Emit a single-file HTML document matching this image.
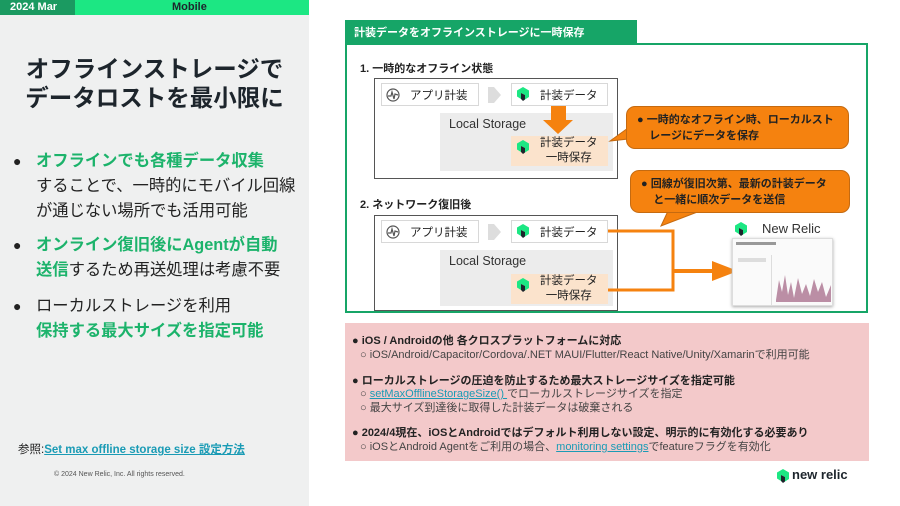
<!DOCTYPE html>
<html><head><meta charset="utf-8">
<style>
*{margin:0;padding:0;box-sizing:border-box}
body{width:900px;height:506px;position:relative;background:#fff;font-family:"Liberation Sans","Noto Sans CJK JP",sans-serif;color:#222;overflow:hidden}
.a{position:absolute;white-space:nowrap}
.g{color:#1cb36b;font-weight:bold}
.box{position:absolute;background:#fff;border:1px solid #d8d8d8}
.ls{position:absolute;background:#ececec}
.pe{position:absolute;background:#fbe3cc}
.co{position:absolute;background:#f5820f;border:1px solid #c56a10;border-radius:9px;font-weight:bold;font-size:11px;line-height:16px;color:#222;padding:5px 0 0 10px}
.pk div{position:absolute;white-space:nowrap;font-size:11px;left:0}
.lnk{color:#1a9bb5;text-decoration:underline}
</style></head><body>
<!-- left panel -->
<div class="a" style="left:0;top:0;width:309px;height:506px;background:#eff0f0"></div>
<div class="a" style="left:0;top:0;width:75px;height:15px;background:#1b9a61"></div>
<div class="a" style="left:75px;top:0;width:234px;height:15px;background:#1ce783"></div>
<div class="a" style="left:10px;top:0;font-size:11px;line-height:15px;font-weight:bold;color:#fff">2024 Mar</div>
<div class="a" style="left:172px;top:0;font-size:11px;line-height:15px;font-weight:bold;color:#1d252c">Mobile</div>
<div class="a" style="left:0;width:309px;top:55px;text-align:center;font-size:23.5px;line-height:29px;font-weight:bold;color:#1d252c">オフラインストレージで<br>データロストを最小限に</div>
<div class="a" style="left:13px;top:153px;font-size:14px">●</div>
<div class="a" style="left:36px;top:149px;font-size:16.3px;line-height:25px"><span class="g">オフラインでも各種データ収集</span><br>することで、一時的にモバイル回線<br>が通じない場所でも活用可能</div>
<div class="a" style="left:13px;top:237px;font-size:14px">●</div>
<div class="a" style="left:36px;top:233px;font-size:16.3px;line-height:25px"><span class="g">オンライン復旧後にAgentが自動<br>送信</span>するため再送処理は考慮不要</div>
<div class="a" style="left:13px;top:298px;font-size:14px">●</div>
<div class="a" style="left:36px;top:294px;font-size:16.3px;line-height:25px">ローカルストレージを利用<br><span class="g">保持する最大サイズを指定可能</span></div>
<div class="a" style="left:18px;top:441px;font-size:11.5px">参照:<span class="lnk" style="font-weight:bold">Set max offline storage size 設定方法</span></div>
<div class="a" style="left:54px;top:471px;font-size:7px;color:#555">© 2024 New Relic, Inc. All rights reserved.</div>

<!-- right header -->
<div class="a" style="left:345px;top:20px;width:292px;height:24px;background:#16a567"></div>
<div class="a" style="left:354px;top:24px;font-size:11px;font-weight:bold;color:#fff">計装データをオフラインストレージに一時保存</div>
<div class="a" style="left:345px;top:43px;width:523px;height:270px;border:2px solid #16a567"></div>

<div class="a" style="left:360px;top:60px;font-size:11px;font-weight:bold">1. 一時的なオフライン状態</div>
<div class="a" style="left:374px;top:78px;width:244px;height:101px;border:1px solid #555"></div>
<div class="a" style="left:360px;top:196px;font-size:11px;font-weight:bold">2. ネットワーク復旧後</div>
<div class="a" style="left:374px;top:215px;width:244px;height:96px;border:1px solid #555"></div>

<div class="ls" style="left:440px;top:113px;width:173px;height:58px"></div>
<div class="a" style="left:449px;top:117px;font-size:12.5px;color:#333">Local Storage</div>
<div class="pe" style="left:511px;top:136px;width:97px;height:30px"></div>
<div class="box" style="left:381px;top:83px;width:98px;height:23px"></div>
<div class="box" style="left:511px;top:83px;width:97px;height:23px"></div>
<div class="ls" style="left:440px;top:250px;width:173px;height:56px"></div>
<div class="a" style="left:449px;top:254px;font-size:12.5px;color:#333">Local Storage</div>
<div class="pe" style="left:511px;top:274px;width:97px;height:30px"></div>
<div class="box" style="left:381px;top:220px;width:98px;height:23px"></div>
<div class="box" style="left:511px;top:220px;width:97px;height:23px"></div>

<div class="a" style="left:410px;top:87px;font-size:11.5px">アプリ計装</div>
<div class="a" style="left:540px;top:87px;font-size:11.5px">計装データ</div>
<div class="a" style="left:540px;top:136px;font-size:11.5px;line-height:15px;text-align:center">計装データ<br>一時保存</div>
<div class="a" style="left:410px;top:224px;font-size:11.5px">アプリ計装</div>
<div class="a" style="left:540px;top:224px;font-size:11.5px">計装データ</div>
<div class="a" style="left:540px;top:274px;font-size:11.5px;line-height:15px;text-align:center">計装データ<br>一時保存</div>

<svg class="a" style="left:0;top:0" width="900" height="506">
<defs>
<g id="nr"><polygon points="6,0 12,3.5 12,10 8,12.5 8,8 4,6 4,12 0,9.5 0,3.5" fill="#1ce783"/><polygon points="4,6 8,8 8,12.5 6,14 4,12" fill="#1d252c"/></g>
<g id="ap"><circle cx="7" cy="7" r="6" fill="none" stroke="#555" stroke-width="1.2"/><polyline points="2,8 5,8 6,4 8,11 9,6 12,7" fill="none" stroke="#555" stroke-width="1.2"/></g>
</defs>
<use href="#ap" x="386" y="88"/><use href="#ap" x="386" y="225"/>
<use href="#nr" x="517" y="87"/><use href="#nr" x="517" y="140"/><use href="#nr" x="517" y="224"/><use href="#nr" x="517" y="278"/>
<use href="#nr" x="735" y="222"/><use href="#nr" x="777" y="469"/>
<polygon points="488,87 494,87 501,95 494,103 488,103" fill="#ddd"/>
<polygon points="488,224 494,224 501,232 494,240 488,240" fill="#ddd"/>
<polygon points="551,106 566,106 566,120 573,120 558,134 543,120 551,120" fill="#f5820f"/>
<polyline points="608,231 673,231 673,290 608,290" fill="none" stroke="#f5820f" stroke-width="3"/>
<line x1="673" y1="271" x2="714" y2="271" stroke="#f5820f" stroke-width="4"/>
<polygon points="712,261 738,271 712,281" fill="#f5820f"/>
<polygon points="628,128 610,141 628,139" fill="#f5820f" stroke="#c56a10" stroke-width="1"/>
<polygon points="668,211 661,226 700,211" fill="#f5820f" stroke="#c56a10" stroke-width="1"/>
</svg>
<div class="co" style="left:626px;top:106px;width:223px;height:43px">●&nbsp;一時的なオフライン時、ローカルスト<br>&nbsp;&nbsp;&nbsp;&nbsp;レージにデータを保存</div>
<div class="co" style="left:630px;top:170px;width:220px;height:43px">●&nbsp;回線が復旧次第、最新の計装データ<br>&nbsp;&nbsp;&nbsp;&nbsp;と一緒に順次データを送信</div>

<div class="a" style="left:762px;top:221px;font-size:13px;color:#333">New Relic</div>
<div class="a" style="left:732px;top:238px;width:101px;height:68px;background:#fafafa;border:1px solid #ddd;box-shadow:0 1px 3px #aaa"></div>
<div class="a" style="left:736px;top:242px;width:40px;height:3px;background:#999"></div>
<div class="a" style="left:738px;top:258px;width:28px;height:4px;background:#ddd"></div>
<div class="a" style="left:771px;top:255px;width:1px;height:50px;background:#ddd"></div>
<svg class="a" style="left:776px;top:270px" width="56" height="32"><polyline points="0,30 3,10 6,22 9,5 12,25 15,12 18,28 22,8 26,24 30,14 34,26 38,9 42,22 46,12 50,27 55,15 55,32 0,32" fill="#a06080" opacity="0.7"/></svg>

<div class="a pk" style="left:345px;top:323px;width:524px;height:138px;background:#f3c9ca">
<div style="left:7px;top:9px;font-weight:bold">●&nbsp;iOS / Androidの他 各クロスプラットフォームに対応</div>
<div style="left:15px;top:23px;color:#444">○&nbsp;iOS/Android/Capacitor/Cordova/.NET MAUI/Flutter/React Native/Unity/Xamarinで利用可能</div>
<div style="left:7px;top:49px;font-weight:bold">●&nbsp;ローカルストレージの圧迫を防止するため最大ストレージサイズを指定可能</div>
<div style="left:15px;top:62px;color:#444">○&nbsp;<span class="lnk">setMaxOfflineStorageSize() </span>でローカルストレージサイズを指定</div>
<div style="left:15px;top:76px;color:#444">○&nbsp;最大サイズ到達後に取得した計装データは破棄される</div>
<div style="left:7px;top:101px;font-weight:bold">●&nbsp;2024/4現在、iOSとAndroidではデフォルト利用しない設定、明示的に有効化する必要あり</div>
<div style="left:15px;top:115px;color:#444">○&nbsp;iOSとAndroid Agentをご利用の場合、<span class="lnk">monitoring settings</span>でfeatureフラグを有効化</div>
</div>
<div class="a" style="left:792px;top:467px;font-size:13px;font-weight:bold;color:#1d252c">new relic</div>
</body></html>
